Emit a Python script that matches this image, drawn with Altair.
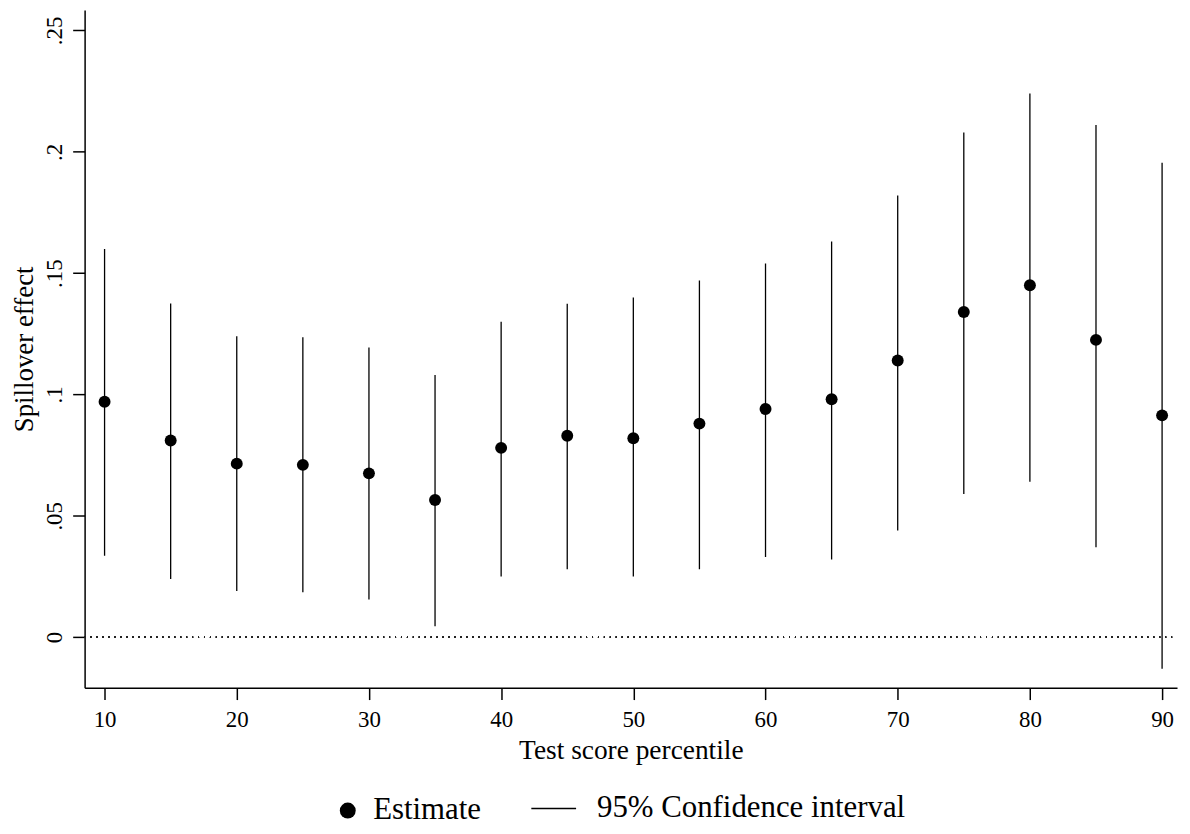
import altair as alt
import pandas as pd

# ---- data ----
percentile = [10, 15, 20, 25, 30, 35, 40, 45, 50, 55, 60, 65, 70, 75, 80, 85, 90]
estimate = [0.097, 0.081, 0.0715, 0.071, 0.0675, 0.0565, 0.078, 0.083, 0.082, 0.088,
            0.094, 0.098, 0.114, 0.134, 0.145, 0.1225, 0.0914]
ci_low = [0.0335, 0.024, 0.019, 0.0185, 0.0155, 0.0045, 0.025, 0.028, 0.025, 0.028,
          0.033, 0.032, 0.044, 0.059, 0.064, 0.037, -0.013]
ci_high = [0.160, 0.1375, 0.124, 0.1236, 0.1194, 0.108, 0.130, 0.1374, 0.140, 0.147,
           0.154, 0.163, 0.182, 0.208, 0.224, 0.211, 0.1955]
x_ticks = [10, 20, 30, 40, 50, 60, 70, 80, 90]
y_ticks = [0, 0.05, 0.1, 0.15, 0.2, 0.25]
series_names = ["Estimate", "95% Confidence interval"]

df = pd.DataFrame({
    "percentile": percentile,
    "estimate": estimate,
    "ci_low": ci_low,
    "ci_high": ci_high,
})
df["est_label"] = series_names[0]
df["ci_label"] = series_names[1]

W, H = 1098, 681
FONT = "Liberation Serif"

xscale = alt.Scale(domain=[8.49, 91.13], nice=False, zero=False)
yscale = alt.Scale(domain=[-0.0208, 0.2584], nice=False, zero=False)

xaxis = alt.Axis(values=x_ticks, title="Test score percentile", grid=False,
                 tickSize=12, labelPadding=9, titlePadding=5,
                 labelFontSize=23, titleFontSize=27.5, format="d")
yaxis = alt.Axis(values=y_ticks, title="Spillover effect", grid=False,
                 tickSize=12, labelPadding=6, titlePadding=5, labelAngle=-90,
                 labelFontSize=23, titleFontSize=27,
                 labelExpr="datum.value == 0 ? '0' : replace(format(datum.value, '.2~f'), '0.', '.')")

zero = alt.Chart(df).mark_rule(strokeDash=[1, 5], strokeWidth=1.6, color="#222222").encode(
    y=alt.datum(0, scale=yscale),
    x=alt.value(0),
    x2=alt.value(W),
)

rules = alt.Chart(df).mark_rule(strokeWidth=1.3, color="black").encode(
    x=alt.X("percentile:Q", scale=xscale, axis=xaxis),
    y=alt.Y("ci_low:Q", scale=yscale, axis=yaxis),
    y2="ci_high:Q",
    stroke=alt.Stroke(
        "ci_label:N",
        scale=alt.Scale(domain=[series_names[1]], range=["black"]),
        legend=alt.Legend(
            title=None, orient="none", legendX=448, legendY=779,
            symbolType="stroke", symbolSize=2025, symbolStrokeWidth=1.3,
            symbolStrokeColor="black", labelOffset=20, padding=0, labelLimit=0,
            labelFont=FONT, labelFontSize=31, labelColor="black",
        ),
    ),
)

points = alt.Chart(df).mark_point(filled=True, size=144, color="black", opacity=1).encode(
    x=alt.X("percentile:Q", scale=xscale, axis=xaxis),
    y=alt.Y("estimate:Q", scale=yscale, axis=yaxis),
    shape=alt.Shape(
        "est_label:N",
        scale=alt.Scale(domain=[series_names[0]], range=["circle"]),
        legend=alt.Legend(
            title=None, orient="none", legendX=249, legendY=789,
            symbolSize=256, symbolFillColor="black", symbolStrokeColor="black",
            symbolStrokeWidth=0, labelOffset=10, padding=0, labelLimit=0,
            labelFont=FONT, labelFontSize=31, labelColor="black",
        ),
    ),
)

chart = alt.layer(zero, rules, points).properties(
    width=W,
    height=H,
    autosize=alt.AutoSizeParams(type="none"),
    padding={"left": 77, "top": 0, "right": 5, "bottom": 143},
    background="white",
).configure_view(stroke=None).configure_axis(
    domainColor="black", domainWidth=1.5, tickColor="black", tickWidth=1.5,
    labelColor="black", titleColor="black", labelFont=FONT, titleFont=FONT,
    titleFontWeight="normal",
)

chart.save("out.html", embed_options={"renderer": "svg", "actions": False})
